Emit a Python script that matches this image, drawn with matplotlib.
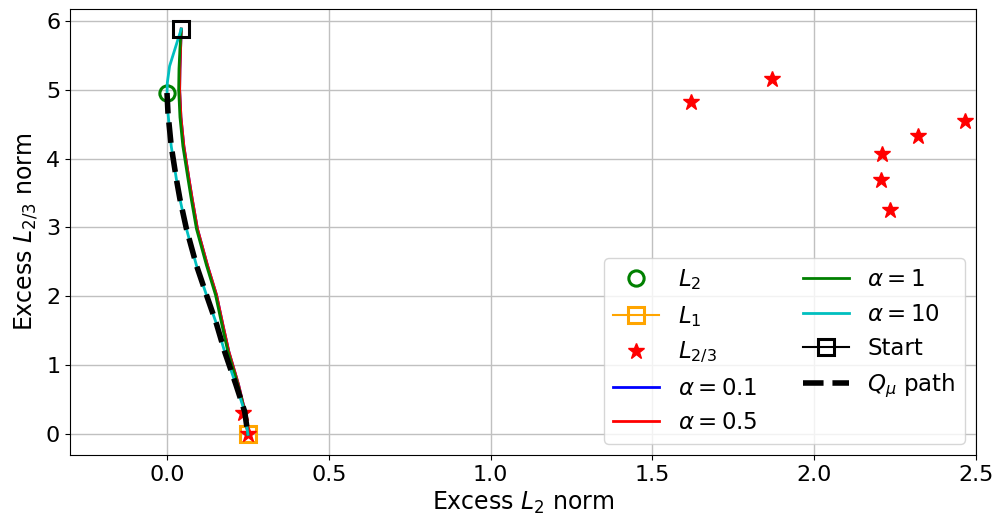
import numpy as np
import matplotlib
matplotlib.use('Agg')
import matplotlib.pyplot as plt

plt.rcParams['font.size'] = 17
plt.rcParams['xtick.labelsize'] = 16
plt.rcParams['ytick.labelsize'] = 16
plt.rcParams['legend.fontsize'] = 16.5
plt.rcParams['mathtext.fontset'] = 'dejavusans'

### data

# norm minimisers
l2_point = (0.0, 4.95)
l1_point = (0.25, 0.0)
start_point = (0.044, 5.876)
l23_x = [0.25, 0.235, 1.618, 1.871, 2.466, 2.32, 2.209, 2.207, 2.234]
l23_y = [0.0, 0.31, 4.82, 5.155, 4.55, 4.32, 4.07, 3.685, 3.26]

# alpha paths (start -> L1)
green_y = [5.876, 5.60, 5.30, 5.00, 4.60, 4.18, 3.70, 3.41, 2.98, 2.45, 2.02, 1.58, 1.20, 0.72, 0.33, 0.0]
green_x = [0.044, 0.040, 0.037, 0.036, 0.040, 0.049, 0.065, 0.075, 0.091, 0.122, 0.150, 0.170, 0.188, 0.219, 0.240, 0.25]
red_y = green_y
red_x = [0.044, 0.042, 0.040, 0.039, 0.043, 0.052, 0.068, 0.078, 0.094, 0.125, 0.153, 0.173, 0.191, 0.221, 0.241, 0.25]
blue_y = green_y
blue_x = [0.044, 0.042, 0.040, 0.039, 0.043, 0.052, 0.068, 0.078, 0.094, 0.125, 0.153, 0.173, 0.191, 0.221, 0.241, 0.25]

# Q_mu path (L2 -> L1)
q_y = [4.95, 4.66, 4.18, 3.70, 3.41, 2.98, 2.45, 2.02, 1.60, 1.20, 0.72, 0.33, 0.0]
q_x = [0.0, 0.003, 0.013, 0.029, 0.040, 0.060, 0.091, 0.122, 0.153, 0.178, 0.213, 0.240, 0.25]

# alpha = 10 goes start -> L2, then follows the Q_mu path
cyan_y = [5.876, 5.73, 5.58, 5.34, 5.10] + q_y
cyan_x = [0.044, 0.034, 0.024, 0.008, 0.001] + q_x

fig, ax = plt.subplots(figsize=(9.99, 5.23), dpi=100)

ax.plot(*l2_point, 'o', color='green', ms=11, mfc='none', mew=2.2, label='$L_2$')
ax.plot(*l1_point, 's-', color='orange', ms=11.5, mfc='none', mew=2.2, label='$L_1$')
ax.plot(l23_x, l23_y, '*', color='red', ms=12, ls='none', label='$L_{2/3}$')
ax.plot(blue_x, blue_y, color='blue', lw=2, label=r'$\alpha = 0.1$')
ax.plot(red_x, red_y, color='red', lw=2, label=r'$\alpha = 0.5$')
ax.plot(green_x, green_y, color='green', lw=2, label=r'$\alpha = 1$')
ax.plot(cyan_x, cyan_y, color='c', lw=2, label=r'$\alpha = 10$')
ax.plot(*start_point, 's-', color='black', ms=11.5, mfc='none', mew=2.2, label='Start')
ax.plot(q_x, q_y, '--', color='black', lw=4, label=r'$Q_\mu$ path')

ax.set_xlim(-0.3, 2.5)
ax.set_ylim(-0.3, 6.17)
ax.set_xticks([0.0, 0.5, 1.0, 1.5, 2.0, 2.5])
ax.set_yticks(range(7))
ax.grid(True, color='#c0c0c0', lw=1)
ax.set_xlabel('Excess $L_2$ norm')
ax.set_ylabel('Excess $L_{2/3}$ norm')
ax.legend(ncol=2, loc='lower right')

fig.subplots_adjust(left=0.07, right=0.977, bottom=0.13, top=0.983)
fig.savefig('out.png', dpi=100)
